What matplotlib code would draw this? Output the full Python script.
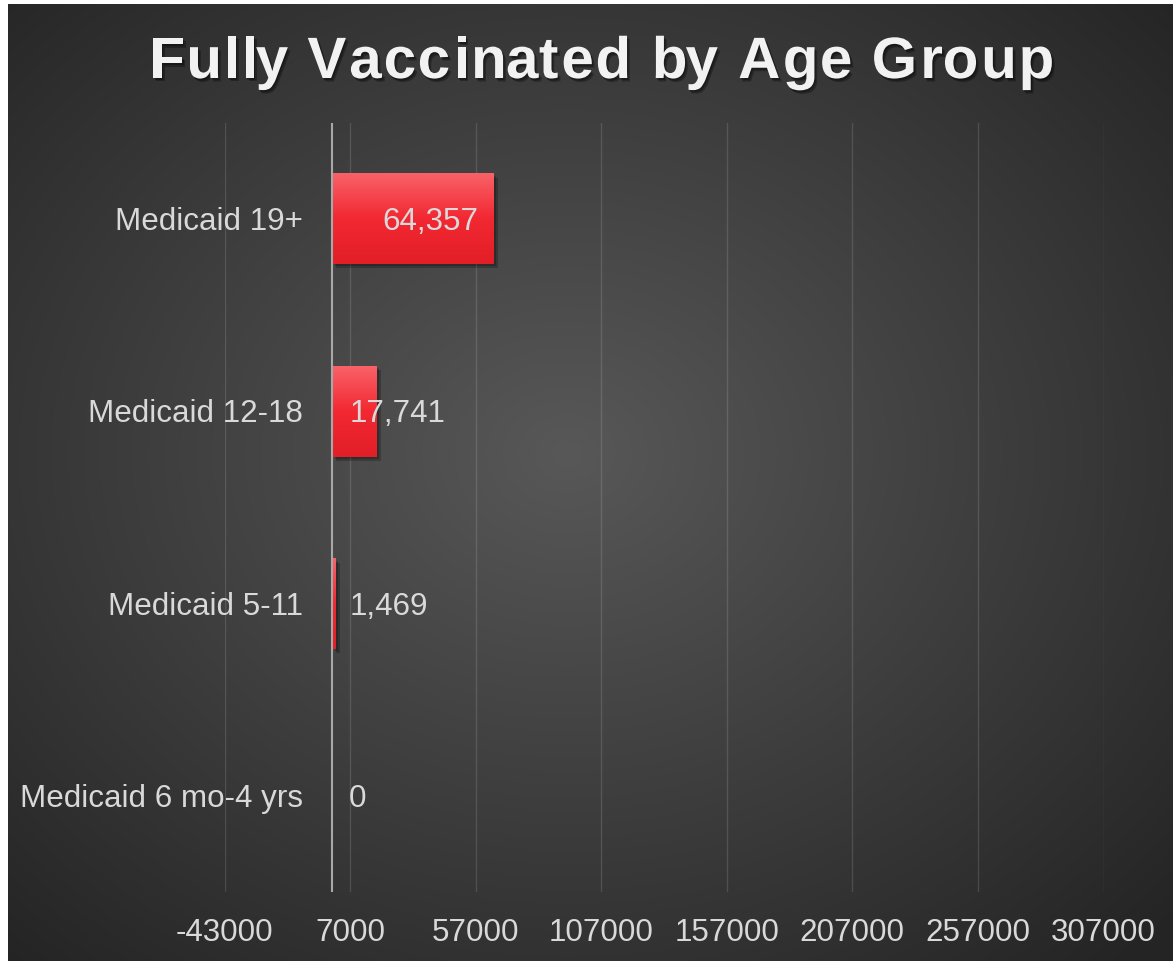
import numpy as np
import matplotlib
matplotlib.use("Agg")
import matplotlib.pyplot as plt
from matplotlib import patheffects as pe
from matplotlib.font_manager import FontProperties, findfont
from matplotlib.ft2font import FT2Font

plt.rcParams['font.family'] = ['Liberation Sans', 'DejaVu Sans']

# data
categories = ['Medicaid 19+', 'Medicaid 12-18', 'Medicaid 5-11', 'Medicaid 6 mo-4 yrs']
values = [64357, 17741, 1469, 0]
x_ticks = [-43000, 7000, 57000, 107000, 157000, 207000, 257000, 307000]
title = 'Fully Vaccinated by Age Group'

W, H, DPI = 1173, 961, 100
TEXT = '#d9d9d9'

fig = plt.figure(figsize=(W / DPI, H / DPI), dpi=DPI, facecolor='white')

# dark panel with radial gradient
bg = fig.add_axes([8 / W, 0, 1 - 8 / W, 1 - 4 / H])
bg.set_axis_off()
gx, gy = np.meshgrid(np.linspace(0, 1, 500), np.linspace(0, 1, 500))
r = np.sqrt((gx - 0.48) ** 2 + (gy - 0.47) ** 2) / 0.72
r = np.clip(r, 0, 1)
c_in, c_out = np.array([0x58, 0x58, 0x58]) / 255, np.array([0x24, 0x24, 0x24]) / 255
img = c_in[None, None, :] * (1 - r[..., None]) + c_out[None, None, :] * r[..., None]
bg.imshow(img, extent=(0, 1, 0, 1), aspect='auto', origin='upper')
bg.set_xlim(0, 1)
bg.set_ylim(0, 1)

# main plot area
ax = fig.add_axes([224.5 / W, (H - 892) / H, 879 / W, 769 / H])
ax.patch.set_alpha(0)
for s in ax.spines.values():
    s.set_visible(False)

y = np.arange(len(categories))
bar_h = 0.47
bars = ax.barh(y, values, height=bar_h, color='#ee2a33', zorder=3,
               path_effects=[pe.SimplePatchShadow(offset=(2.5, -3), shadow_rgbFace='black', alpha=0.22),
                             pe.SimplePatchShadow(offset=(1.5, -1.5), shadow_rgbFace='black', alpha=0.2),
                             pe.Normal()])

# vertical gradient on each bar
grad = np.linspace(0, 1, 100)[:, None]
top_c = np.array([249, 98, 104]) / 255
mid_c = np.array([242, 40, 50]) / 255
bot_c = np.array([226, 30, 38]) / 255
g = np.where(grad < 0.5,
             top_c * (1 - grad * 2) + mid_c * (grad * 2),
             mid_c * (2 - grad * 2) + bot_c * (grad * 2 - 1))
g = g[:, None, :]
for b, v in zip(bars, values):
    if v <= 0:
        continue
    x0, y0, bw, bh = b.get_x(), b.get_y(), b.get_width(), b.get_height()
    ax.imshow(g, extent=(x0, x0 + bw, y0 + bh, y0), origin='upper', aspect='auto', zorder=4)

ax.set_xlim(x_ticks[0], x_ticks[-1])
ax.set_ylim(len(categories) - 0.5, -0.5)

ax.set_xticks(x_ticks)
ax.set_xticklabels([str(t) for t in x_ticks])
ax.tick_params(axis='x', length=0, pad=18.5, labelsize=22.6, labelcolor=TEXT)
ax.set_yticks([])
ax.grid(axis='x', color='white', alpha=0.13, lw=1, zorder=1)
ax.axvline(0, color='#a8a8a8', lw=1.5, zorder=6)

# category labels next to the zero line
for yi, cat in zip(y, categories):
    ax.annotate(cat, (0, yi), xytext=(-21, -2.2), textcoords='offset points',
                ha='right', va='center', fontsize=22.6, color=TEXT, zorder=7)

# data labels
for yi, v in zip(y, values):
    if v > 30000:
        ax.annotate(f'{v:,}', (v, yi), xytext=(-11.5, -2.2), textcoords='offset points',
                    ha='right', va='center', fontsize=22.6, color=TEXT, zorder=7)
    else:
        ax.annotate(f'{v:,}', (0, yi), xytext=(12, -2.2), textcoords='offset points',
                    ha='left', va='center', fontsize=22.6, color=TEXT, zorder=7)

# title, drawn letter by letter for the wide spacing
TITLE_PT = 42
spacing = 1.5
tfp = FontProperties(family='Liberation Sans', weight='bold', size=TITLE_PT)
font = FT2Font(findfont(tfp))
font.set_size(TITLE_PT, DPI)
glyphs = [font.load_char(ord(ch)) for ch in title]
adv = [gl.linearHoriAdvance / 65536 for gl in glyphs]
total = sum(adv) + spacing * (len(title) - 1)
pen = 598 - total / 2
base_y = H - 78
shadow = [pe.SimplePatchShadow(offset=(2, -2.5), shadow_rgbFace='black', alpha=0.3),
          pe.SimplePatchShadow(offset=(1, -1.5), shadow_rgbFace='black', alpha=0.3),
          pe.Normal()]
for ch, gl, a in zip(title, glyphs, adv):
    if ch != ' ':
        fig.text((pen + gl.horiBearingX / 64) / W, base_y / H, ch, fontproperties=tfp,
                 color='#f2f2f2', ha='left', va='baseline', path_effects=shadow)
    pen += a + spacing

fig.savefig('out.png', dpi=DPI, facecolor=fig.get_facecolor())
